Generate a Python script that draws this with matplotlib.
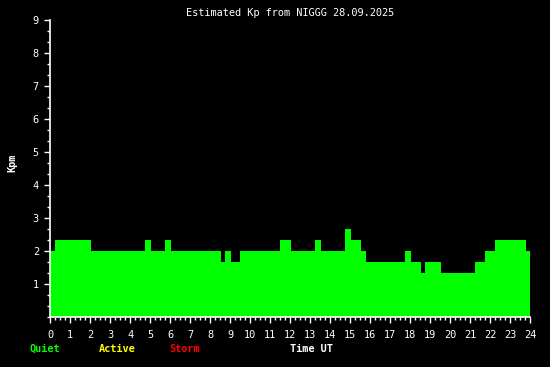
import numpy as np
import matplotlib
matplotlib.use("Agg")
import matplotlib.pyplot as plt
from matplotlib.ticker import MultipleLocator

# Kp estimates every 15 min (UT hours), one row per hour
kp_values = [
    2.00, 2.33, 2.33, 2.33,
    2.33, 2.33, 2.33, 2.33,
    2.00, 2.00, 2.00, 2.00,
    2.00, 2.00, 2.00, 2.00,
    2.00, 2.00, 2.00, 2.33,
    2.00, 2.00, 2.00, 2.33,
    2.00, 2.00, 2.00, 2.00,
    2.00, 2.00, 2.00, 2.00,
    2.00, 2.00, 1.67, 2.00,
    1.67, 1.67, 2.00, 2.00,
    2.00, 2.00, 2.00, 2.00,
    2.00, 2.00, 2.33, 2.33,
    2.00, 2.00, 2.00, 2.00,
    2.00, 2.33, 2.00, 2.00,
    2.00, 2.00, 2.00, 2.67,
    2.33, 2.33, 2.00, 1.67,
    1.67, 1.67, 1.67, 1.67,
    1.67, 1.67, 1.67, 2.00,
    1.67, 1.67, 1.33, 1.67,
    1.67, 1.67, 1.33, 1.33,
    1.33, 1.33, 1.33, 1.33,
    1.33, 1.67, 1.67, 2.00,
    2.00, 2.33, 2.33, 2.33,
    2.33, 2.33, 2.33, 2.00,
]
times = [h + q / 4 for h in range(24) for q in range(4)]

x_ticks = list(range(0, 25))
y_ticks = list(range(1, 10))
title = "Estimated Kp from NIGGG 28.09.2025"
legend_items = [("Quiet", "#00ff00"), ("Active", "#ffff00"), ("Storm", "#ff0000")]

mono = "DejaVu Sans Mono"
fig = plt.figure(figsize=(5.5, 3.67), dpi=100, facecolor="black")
ax = fig.add_axes([50 / 550, 50 / 367, 480 / 550, 297 / 367], facecolor="black")

ax.bar(times, kp_values, width=0.3, align="edge", color="#00ff00", linewidth=0)

ax.set_xlim(0, 24)
ax.set_ylim(0, 9)
ax.set_xticks(x_ticks)
ax.set_yticks(y_ticks)
ax.xaxis.set_minor_locator(MultipleLocator(0.25))
ax.yaxis.set_minor_locator(MultipleLocator(1 / 3))

for s in ["top", "right"]:
    ax.spines[s].set_visible(False)
for s in ["left", "bottom"]:
    ax.spines[s].set_color("white")
    ax.spines[s].set_linewidth(1.2)

ax.tick_params(axis="both", which="major", colors="white", length=4, width=1, labelsize=7.4)
ax.tick_params(axis="both", which="minor", colors="white", length=2.2, width=1)
ax.tick_params(axis="y", pad=4)
ax.tick_params(axis="x", pad=5.5)
for lab in ax.get_xticklabels() + ax.get_yticklabels():
    lab.set_family(mono)

ax.set_title(title, color="white", fontsize=7.4, family=mono, pad=3)
fig.text(12 / 550, 1 - 163 / 367, "Kpm", rotation=90, color="white", fontsize=7.4,
         family=mono, fontweight="bold", ha="center", va="center")

xs = [30, 99, 169]
for (txt, col), x in zip(legend_items, xs):
    fig.text(x / 550, 1 - 349 / 367, txt, color=col, fontsize=7.4, family=mono,
             fontweight="bold", ha="left", va="center")
fig.text(290 / 550, 1 - 349 / 367, "Time UT", color="white", fontsize=7.4, family=mono,
         fontweight="bold", ha="left", va="center")

fig.savefig("out.png", dpi=100, facecolor="black")
